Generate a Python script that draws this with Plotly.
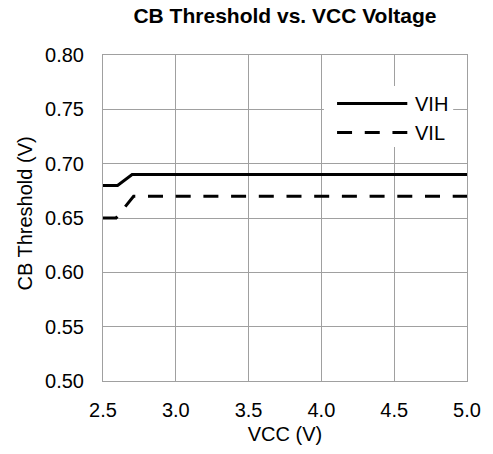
import plotly.graph_objects as go

# Threshold curves (V) against supply voltage VCC (V)
vcc_vih = [2.5, 2.6, 2.7, 5.0]
vih = [0.68, 0.68, 0.69, 0.69]
vcc_vil = [2.5, 2.59, 2.71, 5.0]
vil = [0.65, 0.65, 0.67, 0.67]

x_ticks = [2.5, 3.0, 3.5, 4.0, 4.5, 5.0]
y_ticks = [0.50, 0.55, 0.60, 0.65, 0.70, 0.75, 0.80]

FONT = "Liberation Sans, Arial, sans-serif"
GRID = "#a0a0a0"
DASH = "15px,12.7px"
FS = 20

fig = go.Figure()
fig.add_trace(go.Scatter(x=vcc_vih, y=vih, mode="lines", name="VIH",
                         line=dict(color="black", width=3), showlegend=False))
fig.add_trace(go.Scatter(x=vcc_vil, y=vil, mode="lines", name="VIL",
                         line=dict(color="black", width=3, dash=DASH),
                         showlegend=False))

# Legend box drawn in paper space
lx0, lx1 = 0.643, 0.836
fig.add_shape(type="rect", xref="paper", yref="paper", x0=0.607, x1=0.962,
              y0=0.718, y1=0.905, fillcolor="white", line=dict(width=0), layer="above")
for yv, dash, name in [(0.851, "solid", "VIH"), (0.762, DASH, "VIL")]:
    fig.add_shape(type="line", xref="paper", yref="paper", x0=lx0, x1=lx1,
                  y0=yv, y1=yv, line=dict(color="black", width=3, dash=dash),
                  layer="above")
    fig.add_annotation(xref="paper", yref="paper", x=lx1 + 0.016, y=yv,
                       text=name, showarrow=False, xanchor="left", yanchor="middle",
                       font=dict(family=FONT, size=FS, color="black"))

# Vertical axis title
fig.add_annotation(xref="paper", yref="paper", x=-0.215, y=0.513,
                   text="CB Threshold (V)", textangle=-90, showarrow=False,
                   xanchor="center", yanchor="middle",
                   font=dict(family=FONT, size=FS, color="black"))

fig.update_layout(
    width=493, height=454,
    margin=dict(l=103, r=24, t=55, b=73),
    paper_bgcolor="white", plot_bgcolor="white",
    title=dict(text="<b>CB Threshold vs. VCC Voltage</b>", x=0.578, xanchor="center",
               y=0.965, yanchor="middle",
               font=dict(family=FONT, size=21, color="black")),
    font=dict(family=FONT, size=FS, color="black"),
)
fig.update_xaxes(range=[2.5, 5.0], tickvals=x_ticks,
                 ticktext=[f"{v:.1f}" for v in x_ticks],
                 showgrid=True, gridcolor=GRID, gridwidth=1,
                 showline=True, linecolor=GRID, linewidth=1, mirror=True,
                 zeroline=False, ticks="", ticklabelstandoff=11,
                 title=dict(text="VCC (V)", standoff=6, font=dict(size=FS)))
fig.update_yaxes(range=[0.50, 0.80], tickvals=y_ticks,
                 ticktext=[f"{v:.2f}" for v in y_ticks],
                 showgrid=True, gridcolor=GRID, gridwidth=1,
                 showline=True, linecolor=GRID, linewidth=1, mirror=True,
                 zeroline=False, ticks="", ticklabelstandoff=14)

fig.write_html("out.html")
